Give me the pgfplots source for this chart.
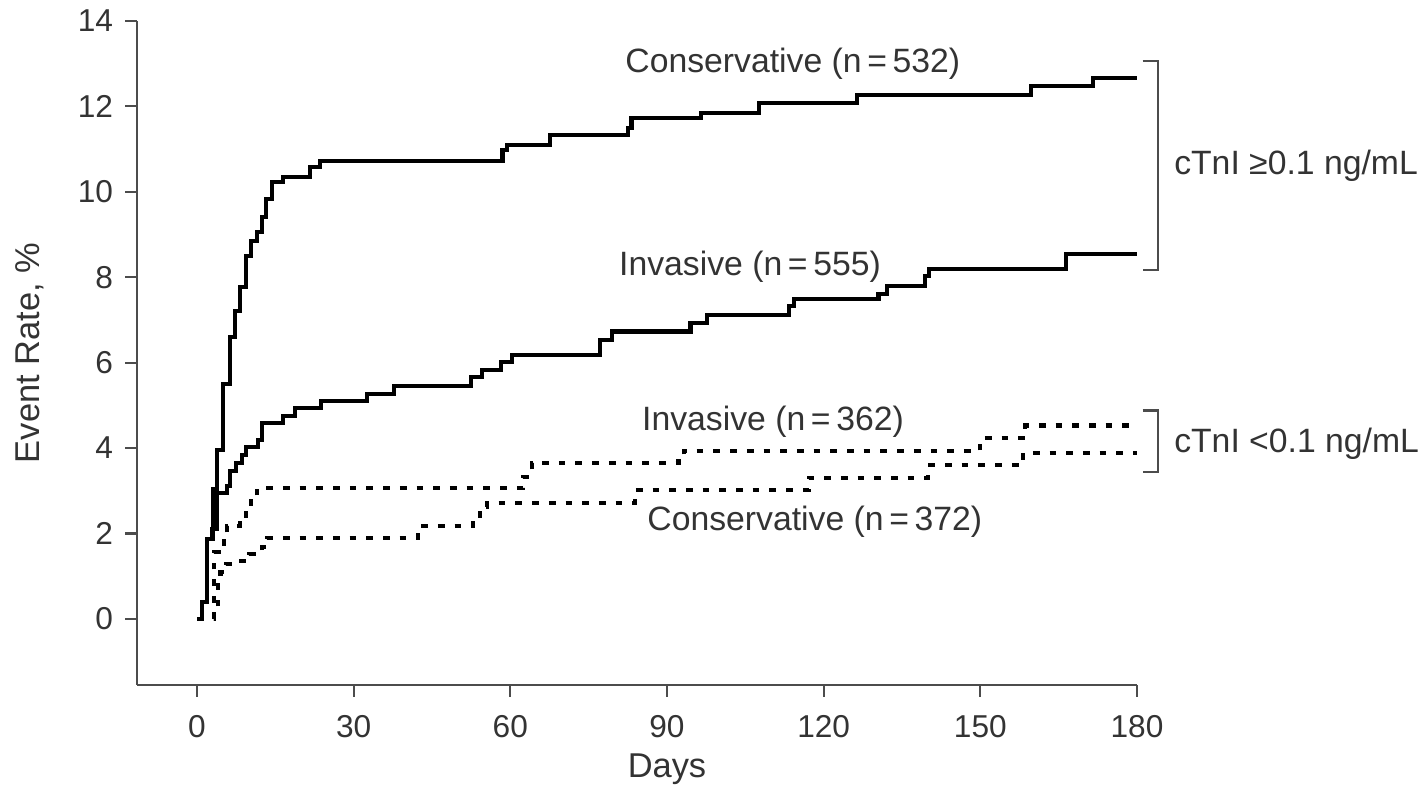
\documentclass[border=0pt]{standalone}
\usepackage{fontspec}
\setmainfont{Liberation Sans}
\usepackage{pgfplots}
\usepackage{pgfplotstable}
\pgfplotsset{compat=1.18}
\usetikzlibrary{calc}

\definecolor{axgray}{gray}{0.3}
\definecolor{txt}{gray}{0.2}

% cTnI >= 0.1, conservative
\pgfplotstableread{
day rate
0 0
0.9 0.4
1.85 1.87
3.0 3.04
3.9 3.95
5.0 5.5
6.3 6.6
7.3 7.2
8.2 7.78
9.4 8.5
10.3 8.86
11.4 9.06
12.4 9.4
13.3 9.83
14.3 10.22
16.5 10.35
21.6 10.58
23.5 10.73
58.5 10.97
59.4 11.1
67.6 11.33
82.6 11.5
83.2 11.73
96.6 11.85
107.7 12.08
126.3 12.26
159.7 12.47
171.5 12.66
180 12.66
}\conshi

% cTnI >= 0.1, invasive
\pgfplotstableread{
day rate
0 0
0.9 0.4
2.0 1.87
2.9 2.1
3.8 2.95
5.7 3.12
6.3 3.47
7.5 3.65
8.6 3.84
9.4 4.02
11.7 4.2
12.4 4.59
16.4 4.76
18.8 4.93
23.7 5.11
32.5 5.27
37.7 5.45
52.4 5.66
54.5 5.84
58.3 6.01
60.4 6.19
77.2 6.53
79.4 6.73
94.5 6.92
97.7 7.12
113.4 7.32
114.3 7.5
130.5 7.6
132.2 7.8
139.4 8.04
140.2 8.2
166.4 8.55
180 8.55
}\invhi

% cTnI < 0.1, invasive
\pgfplotstableread{
day rate
0 0
3.3 1.56
5.2 1.92
5.8 2.18
8.2 2.34
9.4 2.58
10.3 2.89
11.5 3.07
62.5 3.33
64.1 3.65
92.2 3.77
93.2 3.94
150 4.23
158.6 4.53
180 4.53
}\invlo

% cTnI < 0.1, conservative
\pgfplotstableread{
day rate
0 0
3.2 0.25
4.0 0.8
4.5 1.1
5.5 1.29
7.8 1.36
10.0 1.52
12.4 1.68
13.4 1.9
42.4 2.18
52.9 2.34
54.2 2.62
55.5 2.71
83.9 3.02
117.1 3.3
140 3.6
158.2 3.89
180 3.89
}\conslo

\begin{document}
\begin{tikzpicture}
\begin{axis}[
  scale only axis,
  width=100mm, height=66.4mm,
  xmin=-11.49, xmax=180, ymin=-1.546, ymax=14,
  axis x line*=bottom, axis y line*=left,
  axis line style={axgray, line width=0.6pt, -},
  xtick={0,30,...,180}, ytick={0,2,...,14},
  tick align=outside, major tick length=1.15mm,
  tick style={axgray, line width=0.6pt},
  /pgf/number format/assume math mode=true,
  ticklabel style={font=\fontsize{9}{10}\selectfont, text=txt},
  xticklabel style={yshift=-0.6mm},
  xlabel={Days}, ylabel={Event Rate, \%},
  label style={font=\fontsize{9.8}{12}\selectfont, text=txt},
  xlabel style={at={(axis description cs:0.53,-0.127)}, anchor=center, inner sep=0pt},
  ylabel style={at={(axis description cs:-0.107,0.5)}, anchor=center, inner sep=0pt},
  clip=false,
]
\addplot[const plot, black, line width=1.15pt] table[x=day, y=rate] {\conshi};
\addplot[const plot, black, line width=1.15pt] table[x=day, y=rate] {\invhi};
\addplot[const plot, black, line width=1.15pt, dash pattern=on 0.67mm off 1mm] table[x=day, y=rate] {\invlo};
\addplot[const plot, black, line width=1.15pt, dash pattern=on 0.67mm off 1mm] table[x=day, y=rate] {\conslo};

\begin{scope}[every node/.style={font=\fontsize{9.6}{12}\selectfont, text=txt, inner sep=0pt}]
\node at (axis cs:114.1,13.0) {Conservative (n\,=\,532)};
\node at (axis cs:105.9,8.24) {Invasive (n\,=\,555)};
\node at (axis cs:110.3,4.61) {Invasive (n\,=\,362)};
\node at (axis cs:118.3,2.27) {Conservative (n\,=\,372)};
\node[anchor=west] at (axis cs:187,10.62) {cTnI ≥0.1 ng/mL};
\node[anchor=west] at (axis cs:187,4.1) {cTnI <0.1 ng/mL};
\end{scope}
\draw[axgray, line width=0.6pt] (axis cs:181.1,13.07) -- (axis cs:184.1,13.07) -- (axis cs:184.1,8.16) -- (axis cs:181.1,8.16);
\draw[axgray, line width=0.6pt] (axis cs:181.1,4.88) -- (axis cs:184.1,4.88) -- (axis cs:184.1,3.44) -- (axis cs:181.1,3.44);
\coordinate (sw) at (rel axis cs:0,0);
\end{axis}
\pgfresetboundingbox
\path ($(sw)+(-13.7mm,-10.3mm)$) rectangle ($(sw)+(129.1mm,68.5mm)$);
\end{tikzpicture}
\end{document}
